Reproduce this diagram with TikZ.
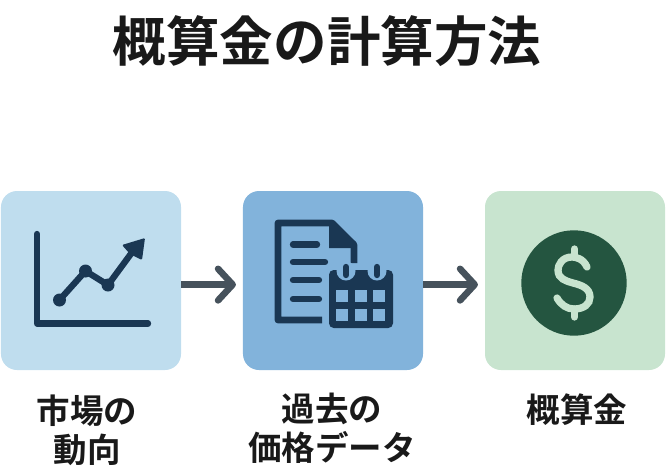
\documentclass[tikz,border=0pt]{standalone}
\usepackage{fontspec}
\setmainfont{Noto Sans CJK JP}[BoldFont={Noto Sans CJK JP Bold}]
\usepackage{xcolor}
\definecolor{marketblue}{HTML}{BFDDEE}
\definecolor{pastblue}{HTML}{82B3DB}
\definecolor{moneygreen}{HTML}{C8E4CF}
\definecolor{icondark}{HTML}{1A3753}
\definecolor{forestdark}{HTML}{245540}
\definecolor{arrowgray}{HTML}{46525C}
\usetikzlibrary{arrows.meta}
\tikzset{
  stepbox/.style={minimum width=5.4cm, minimum height=5.37cm, inner sep=0pt, outer sep=0pt, rounded corners=0.48cm},
  flowarrow/.style={line width=5.6pt, color=arrowgray, shorten >=6pt, -{Straight Barb[length=12.5pt, width=27pt, round]}},
  caption/.style={font=\fontsize{28.6}{33.5}\selectfont\bfseries, align=center, text=black!90},
  iconline/.style={line width=5.4pt, color=icondark, line cap=round, line join=round}
}

\begin{document}
\begin{tikzpicture}[x=0.03cm, y=-0.03cm]
  \useasboundingbox (0, 0) rectangle (670, 467);

  % --- Title ---
  \node (title) at (327, 41) {\fontsize{45.7}{50}\selectfont\bfseries\textcolor{black!90}{概算金の計算方法}};

  % --- Boxes ---
  \node[stepbox, fill=marketblue] (market) at (91, 280.5) {};
  \node[stepbox, fill=pastblue] (past) at (333, 280.5) {};
  \node[stepbox, fill=moneygreen] (money) at (575, 280.5) {};

  % --- Arrows ---
  \draw[flowarrow] ([yshift=-3.5pt]market.east) -- ([yshift=-3.5pt]past.west);
  \draw[flowarrow] ([yshift=-3.5pt]past.east) -- ([yshift=-3.5pt]money.west);

  % --- Captions ---
  \node[caption] (marketcap) at (87, 430) {市場の\\動向};
  \node[caption] (pastcap) at (332, 428.5) {過去の\\価格データ};
  \node[caption] (moneycap) at (577, 410) {概算金};

  % --- Chart icon ---
  \draw[iconline] (37, 234) -- (37, 323.5) -- (148, 323.5);
  \draw[iconline] (59.5, 300) -- (85.5, 271) -- (108, 285) -- (133, 251);
  \fill[icondark] (59.5, 300) circle (6.5);
  \fill[icondark] (85.5, 271) circle (6.5);
  \fill[icondark] (108, 285) circle (6.5);
  \fill[icondark, rounded corners=1pt] (145, 238) -- (122, 245) -- (130, 254) -- (142, 260) -- cycle;

  % --- Document icon ---
  \draw[line width=5.8pt, color=icondark, line join=round]
    (322, 320) -- (278, 320) -- (278, 223) -- (332, 223) -- (354, 245) -- (354, 263);
  \fill[icondark] (329, 220) -- (356, 242) -- (356, 248) -- (329, 248) -- cycle;
  \draw[iconline] (293, 244.5) -- (317, 244.5);
  \draw[iconline] (293, 262) -- (325, 262);
  \draw[iconline] (293, 280) -- (319, 280);
  \draw[iconline] (293, 299) -- (319, 299);

  % --- Calendar on top of it ---
  \fill[icondark, rounded corners=4pt] (329, 270) rectangle (393, 328);
  \fill[pastblue] (346, 271) circle (9.5);
  \fill[pastblue] (377, 271) circle (9.5);
  \draw[iconline] (346, 267) -- (346, 275);
  \draw[iconline] (377, 267) -- (377, 275);
  \foreach \cx in {336, 355, 373} {
    \foreach \cy in {290, 309} {
      \fill[pastblue] (\cx, \cy) rectangle ++(12, 12);
    }
  }

  % --- Coin icon ---
  \fill[forestdark] (574, 283) circle (52.7);
  \draw[line width=6.2pt, color=moneygreen, line cap=round]
    (587, 267) .. controls (583, 258) and (575, 257) .. (572, 257)
    .. controls (562, 257) and (558, 265) .. (558, 270)
    .. controls (558, 279) and (566, 281) .. (573, 283)
    .. controls (581, 285) and (590, 288) .. (590, 297)
    .. controls (590, 304) and (584, 309) .. (574, 309)
    .. controls (567, 309) and (561, 305) .. (557, 298);
  \draw[line width=6.2pt, color=moneygreen, line cap=round] (574.5, 249) -- (574.5, 257);
  \draw[line width=6.2pt, color=moneygreen, line cap=round] (574.5, 309) -- (574.5, 317);
\end{tikzpicture}
\end{document}
